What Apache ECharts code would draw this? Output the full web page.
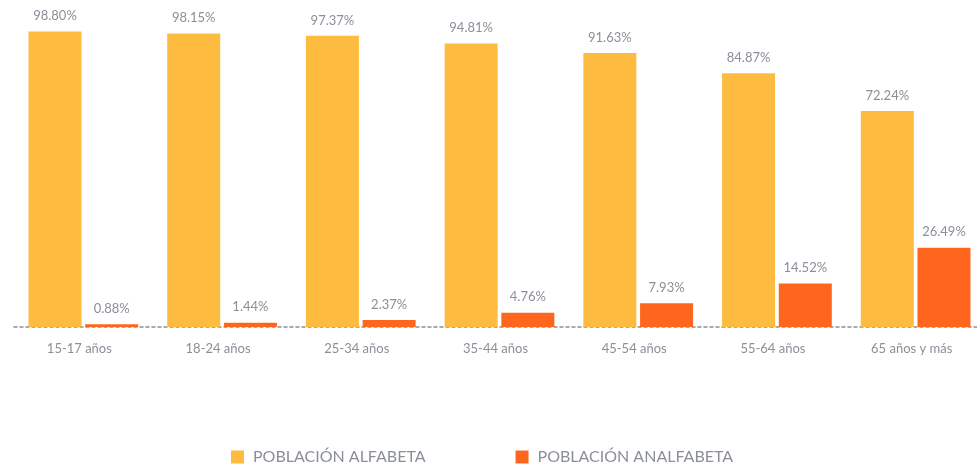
<!DOCTYPE html>
<html>
<head>
<meta charset="utf-8">
<script src="https://cdn.jsdelivr.net/npm/echarts@6/dist/echarts.min.js"></script>
<style>
  html, body { margin: 0; padding: 0; background: #fff; }
  #chart { width: 977px; height: 470px; }
</style>
</head>
<body>
<div id="chart"></div>
<script>
const categories = ['15-17 años', '18-24 años', '25-34 años', '35-44 años', '45-54 años', '55-64 años', '65 años y más']
const alfabeta = [98.80, 98.15, 97.37, 94.81, 91.63, 84.87, 72.24]
const analfabeta = [0.88, 1.44, 2.37, 4.76, 7.93, 14.52, 26.49]
const seriesNames = ['POBLACIÓN ALFABETA', 'POBLACIÓN ANALFABETA']

const textGray = '#8a8f98'
const fontName = 'Lato'

let chart = echarts.init(document.getElementById('chart'))

const labelStyle = {
  show: true,
  position: 'top',
  distance: 9,
  color: textGray,
  fontFamily: fontName,
  fontSize: 13,
  formatter: p => p.value.toFixed(2) + '%'
}

const option = {
  animation: false,
  textStyle: { fontFamily: fontName },
  grid: { left: 14, width: 971, top: 28, bottom: 143, outerBoundsMode: 'none' },
  legend: {
    data: seriesNames,
    left: 231,
    top: 449,
    padding: 0,
    itemWidth: 13,
    itemHeight: 13,
    itemGap: 90,
    icon: 'rect',
    textStyle: { color: textGray, fontSize: 16, fontFamily: fontName, padding: [0, 0, 0, 4] }
  },
  xAxis: {
    type: 'category',
    data: categories,
    axisTick: { show: false },
    axisLine: { lineStyle: { color: textGray, width: 1.5, type: [3, 3] } },
    axisLabel: {
      color: textGray, fontSize: 13, margin: 15, fontFamily: fontName,
      padding: [0, 8, 0, 0]
    }
  },
  yAxis: {
    type: 'value',
    min: 0,
    max: 100,
    show: false,
    splitLine: { show: false }
  },
  series: [
    {
      name: seriesNames[0],
      type: 'bar',
      data: alfabeta,
      barWidth: 53,
      barGap: '7%',
      itemStyle: { color: '#fdbc40' },
      label: labelStyle
    },
    {
      name: seriesNames[1],
      type: 'bar',
      data: analfabeta,
      barWidth: 53,
      itemStyle: { color: '#ff661d' },
      label: labelStyle
    }
  ]
}

chart.setOption(option)
</script>
</body>
</html>
